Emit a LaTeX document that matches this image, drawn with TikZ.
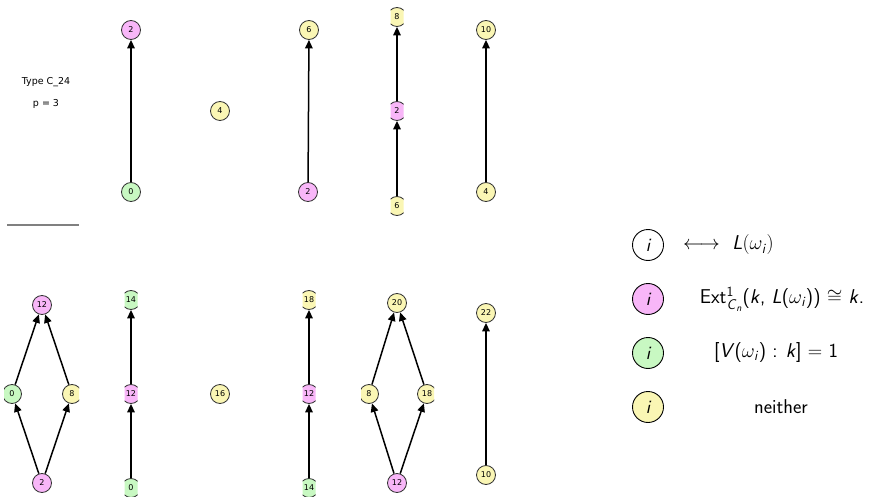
\RequirePackage{fix-cm}
\documentclass[tikz,border=0pt]{standalone}
\usepackage{amsmath}
\usepackage{graphicx}
\usepackage{fontspec}
\usetikzlibrary{arrows.meta}
\newfontfamily\lblfont{DejaVu Sans}
\definecolor{pinkfill}{HTML}{F8B6F8}
\definecolor{greenfill}{HTML}{C8F8C2}
\definecolor{yellowfill}{HTML}{FAF6B4}
\definecolor{rimgray}{HTML}{333333}
\newcommand{\sfi}[1]{\textsf{\textit{#1}}}
\tikzset{
  vtx/.style={circle, draw=rimgray, line width=0.8pt, minimum size=19pt, inner sep=0pt,
              font=\lblfont\fontsize{8}{9}\selectfont},
  pk/.style={vtx, fill=pinkfill},
  gr/.style={vtx, fill=greenfill},
  yl/.style={vtx, fill=yellowfill},
  up/.style={-{Triangle[length=8.5pt,width=7.5pt]}, line width=1.5pt, black},
  keyvtx/.style={circle, draw=black, line width=0.9pt, minimum size=31pt, inner sep=0pt,
                 font=\fontsize{19}{23}\selectfont\sffamily\itshape},
  keytxt/.style={font=\fontsize{20}{24}\selectfont\sffamily, inner sep=0pt},
  info/.style={font=\lblfont\fontsize{9.5}{11}\selectfont}
}
\begin{document}
\begin{tikzpicture}[x=1pt, y=-1pt]
\useasboundingbox (0,0) rectangle (870,497);

% title block
\node[info] (ttl) at (46,82) {Type C\_24};
\node[info] (prm) at (46,104) {p = 3};
\coordinate (sepL) at (7,225);
\coordinate (sepR) at (79,225);
\draw[gray, line width=1.1pt] (sepL) -- (sepR);

% ---- top row ----
\node[pk] (a2) at (131,30) {2};
\node[gr] (a0) at (131,192) {0};
\draw[up] (a0) -- (a2);

\node[yl] (b4) at (220,111) {4};

\node[yl] (c6) at (309,30) {6};
\node[pk] (c2) at (308,192) {2};
\draw[up] (c2) -- (c6);

\begin{scope}
  \clip (390.5,0) rectangle (403.5,230);
  \node[yl] (d8) at (397,17) {8};
  \node[pk] (d2) at (397,111) {2};
  \node[yl] (d6) at (397,206) {6};
  \draw[up] (d6) -- (d2);
  \draw[up] (d2) -- (d8);
\end{scope}

\node[yl] (e10) at (486,30) {10};
\node[yl] (e4) at (486,192) {4};
\draw[up] (e4) -- (e10);

% ---- bottom row ----
\begin{scope}
  \clip (4,280) rectangle (79,497);
  \node[pk] (f12) at (42,305) {12};
  \node[gr] (f0) at (12,394) {0};
  \node[yl] (f8) at (72,394) {8};
  \node[pk] (f2) at (42,483) {2};
  \draw[up] (f2) -- (f0);
  \draw[up] (f2) -- (f8);
  \draw[up] (f0) -- (f12);
  \draw[up] (f8) -- (f12);
\end{scope}

\begin{scope}
  \clip (124.5,280) rectangle (137.5,497);
  \node[gr] (g14) at (131,300) {14};
  \node[pk] (g12) at (131,394) {12};
  \node[gr] (g0) at (131,488) {0};
  \draw[up] (g0) -- (g12);
  \draw[up] (g12) -- (g14);
\end{scope}

\node[yl] (h16) at (220,394) {16};

\begin{scope}
  \clip (302.5,280) rectangle (315.5,497);
  \node[yl] (i18) at (309,300) {18};
  \node[pk] (i12) at (309,394) {12};
  \node[gr] (i14) at (309,488) {14};
  \draw[up] (i14) -- (i12);
  \draw[up] (i12) -- (i18);
\end{scope}

\begin{scope}
  \clip (361,280) rectangle (434,497);
  \node[yl] (j20) at (397,303) {20};
  \node[yl] (j8) at (369,394) {8};
  \node[yl] (j18) at (427,394) {18};
  \node[pk] (j12) at (397,483) {12};
  \draw[up] (j12) -- (j8);
  \draw[up] (j12) -- (j18);
  \draw[up] (j8) -- (j20);
  \draw[up] (j18) -- (j20);
\end{scope}

\node[yl] (k22) at (486,313) {22};
\node[yl] (k10) at (486,475) {10};
\draw[up] (k10) -- (k22);

% ---- key ----
\node[keyvtx, fill=white] (key0) at (648,245) {i};
\node[keytxt, anchor=west] (txt0) at (683,245) {$\longleftrightarrow$\ \ \sfi{L}$(\omega_{\sfi{i}})$};
\node[keyvtx, fill=pinkfill] (key1) at (648,299) {i};
\node[keytxt] (txt1) at (782,299) {Ext$^{\textsf{1}}_{\sfi{C}_{\sfi{n}}}$(\sfi{k}, \sfi{L}($\omega_{\sfi{i}}$)) $\cong$ \sfi{k}.};
\node[keyvtx, fill=greenfill] (key2) at (648,353) {i};
\node[keytxt] (txt2) at (776,353) {[\sfi{V}($\omega_{\sfi{i}}$) : \sfi{k}] $=$ 1};
\node[keyvtx, fill=yellowfill] (key3) at (648,407) {i};
\node[keytxt] (txt3) at (781,407) {neither};
\end{tikzpicture}
\end{document}
